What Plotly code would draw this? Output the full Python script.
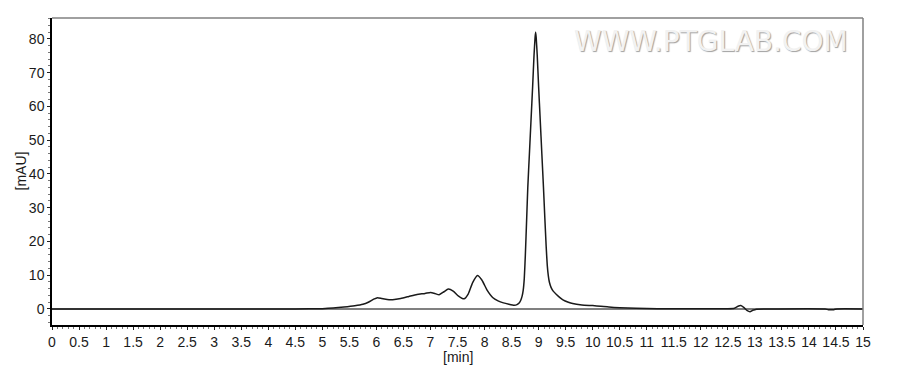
import plotly.graph_objects as go

# Retention time (min) and absorbance (mAU)
time_min = [0, 1, 2, 3, 4, 4.5, 5.0, 5.2, 5.4, 5.6, 5.75, 5.85, 5.95, 6.02, 6.1, 6.2, 6.3,
            6.45, 6.6, 6.75, 6.9, 7.0, 7.08, 7.16, 7.25, 7.33, 7.42, 7.52, 7.62, 7.7, 7.78,
            7.87, 7.95, 8.05, 8.15, 8.25, 8.35, 8.45, 8.55, 8.60, 8.64, 8.67, 8.695, 8.715,
            8.735, 8.755, 8.78, 8.80, 8.83, 8.86, 8.89, 8.915, 8.935, 8.945, 8.955, 8.975,
            9.00, 9.03, 9.06, 9.09, 9.115, 9.14, 9.16, 9.18, 9.20, 9.23, 9.27, 9.33, 9.40,
            9.45, 9.55, 9.63, 9.8, 10.0, 10.15, 10.3, 10.5, 10.8, 11.2, 11.8, 12.5, 12.62,
            12.7, 12.74, 12.8, 12.86, 12.91, 12.96, 13.03, 13.2, 14.3, 14.36, 14.46, 14.52, 15]
signal_mau = [0, 0, 0, 0, 0, 0.02, 0.1, 0.25, 0.55, 0.95, 1.4, 2.0, 2.9, 3.35, 3.1, 2.8, 2.75,
              3.1, 3.7, 4.3, 4.6, 4.9, 4.6, 4.2, 5.1, 5.9, 5.3, 3.8, 3.0, 4.5, 7.8,
              9.9, 8.6, 5.5, 3.4, 2.4, 1.8, 1.4, 1.1, 1.3, 1.8, 2.6, 3.8, 5.5,
              9.0, 16.0, 27.0, 36.0, 46.0, 56.0, 66.0, 75.0, 80.5, 82.0, 80.5, 75.0,
              66.0, 56.0, 46.0, 36.0, 27.0, 18.5, 13.0, 9.8, 7.9, 6.4, 5.3, 4.3, 3.3,
              2.7, 2.0, 1.6, 1.2, 1.0, 0.8, 0.55, 0.35, 0.2, 0.1, 0.05, 0.05, 0.2,
              0.9, 1.0, 0.4, -0.5, -0.8, -0.4, -0.05, 0, 0, -0.2, -0.2, 0, 0]

x_ticks = [i * 0.5 for i in range(31)]
x_labels = [("%g" % v) for v in x_ticks]
y_ticks = list(range(0, 90, 10))
x_title = "[min]"
y_title = "[mAU]"

FONT = "Liberation Sans, Arial, sans-serif"

fig = go.Figure()
fig.add_trace(go.Scatter(x=time_min, y=signal_mau, mode="lines",
                         line=dict(color="#1a1a1a", width=1.5, shape="spline", smoothing=0.5),
                         hoverinfo="skip"))

fig.update_layout(
    width=900, height=370,
    margin=dict(l=52, r=37, t=18, b=45),
    paper_bgcolor="white", plot_bgcolor="white",
    showlegend=False,
    font=dict(family=FONT, size=14, color="#1a1a1a"),
    xaxis=dict(range=[0, 15], tickmode="array", tickvals=x_ticks, ticktext=x_labels,
               ticks="outside", ticklen=3, tickcolor="#222", showgrid=False, zeroline=False,
               showline=True, linecolor="black", linewidth=1.5, automargin=False,
               minor=dict(dtick=0.1, ticks="outside", ticklen=2, tickcolor="#777"),
               tickfont=dict(size=14)),
    yaxis=dict(range=[-4.75, 86.2], tickmode="array", tickvals=y_ticks,
               ticks="outside", ticklen=3, tickcolor="#222", showgrid=False,
               zeroline=True, zerolinecolor="#808080", zerolinewidth=1.5,
               showline=True, linecolor="black", linewidth=1.5, automargin=False,
               minor=dict(dtick=2, ticks="outside", ticklen=2, tickcolor="#777"),
               tickfont=dict(size=14)),
)

# axis titles
fig.add_annotation(text=x_title, xref="paper", yref="paper", x=0.5, y=0,
                   xanchor="center", yanchor="middle", yshift=-32, showarrow=False,
                   font=dict(family=FONT, size=14, color="#1a1a1a"))
fig.add_annotation(text=y_title, xref="paper", yref="paper", x=0, y=0.5,
                   xanchor="center", yanchor="middle", xshift=-32, textangle=-90,
                   showarrow=False, font=dict(family=FONT, size=14, color="#1a1a1a"))

# gray frame on top and right
fig.add_shape(type="line", xref="paper", yref="paper", x0=0, x1=1, y0=1, y1=1,
              line=dict(color="#808080", width=1.5))
fig.add_shape(type="line", xref="paper", yref="paper", x0=1, x1=1, y0=0, y1=1,
              line=dict(color="#808080", width=1.5))

# watermark (embossed look)
fig.add_annotation(text="WWW.PTGLAB.COM", xref="paper", yref="paper",
                   x=0.984, y=0.925, xanchor="right", yanchor="middle", showarrow=False,
                   font=dict(family="DejaVu Sans, sans-serif", size=28, color="#f2f2f2",
                             shadow="1px 1px 1px #a0a0a0"))

fig.write_html("out.html")
